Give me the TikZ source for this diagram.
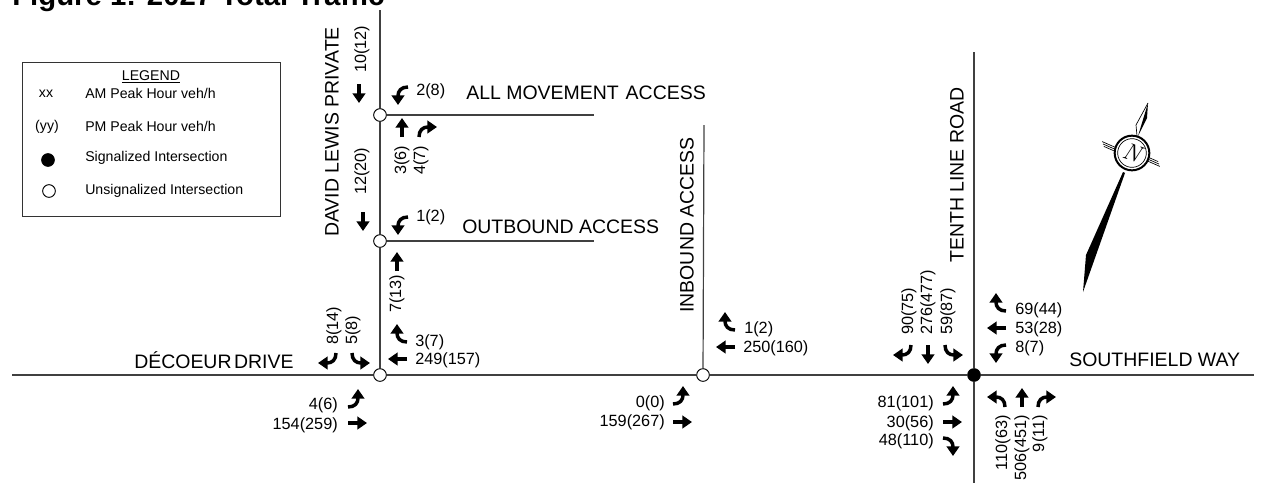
\documentclass[tikz,border=0pt]{standalone}
\usepackage{fontspec}
\setmainfont{Liberation Sans}
\usepackage{tikz}
\usetikzlibrary{arrows.meta,positioning}

\begin{document}
\begin{tikzpicture}[
  x=0.75pt,y=-0.75pt,
  font=\fontsize{12.2}{14}\selectfont,
  road/.style={draw=black!75,line width=0.9pt},
  ctrl/.style={circle,draw=black,fill=white,line width=0.7pt,minimum size=9.5pt,inner sep=0pt},
  sgnl/.style={ctrl,fill=black},
  mov/.style={line width=2.6pt,-{Triangle[length=7.2pt,width=9.4pt]}},
  vol/.style={inner sep=0pt,anchor=west},
  volr/.style={inner sep=0pt,anchor=east},
  vup/.style={inner sep=0pt,rotate=90,anchor=west},
  vdn/.style={inner sep=0pt,rotate=90,anchor=east},
  rname/.style={inner sep=0pt,font=\fontsize{14.6}{16}\selectfont},
  leg/.style={inner sep=0pt,font=\fontsize{10.6}{12}\selectfont},
  thru/.pic={\draw[mov] (0,0) -- (19,0);},
  turnl/.pic={\draw[mov] (0,0) .. controls (7,0) and (10,-4) .. (10,-18);},
  turnr/.pic={\draw[mov] (0,0) .. controls (7,0) and (10,4) .. (10,18);}
]
\path[use as bounding box,clip] (0,0) rectangle (1264,483);

% ---- title (cut by the page edge) ----
\node[inner sep=0pt,anchor=base west,font=\fontsize{22}{24}\selectfont\bfseries] (title) at (12,5) {Figure 1: 2027 Total Traffic};

% ---- intersections and road ends ----
\node[ctrl] (dlpn) at (380,115) {};
\node[ctrl] (dlps) at (380,241) {};
\node[ctrl] (dlpm) at (380,375) {};
\node[ctrl] (inbd) at (703,375) {};
\node[sgnl] (tnth) at (974,375) {};
\coordinate (dlptop) at (380,10);
\coordinate (amaend) at (594,115);
\coordinate (obaend) at (594,241);
\coordinate (inbtop) at (704,125);
\coordinate (tnthn) at (974,52);
\coordinate (tnths) at (974,483);
\coordinate (decw) at (12,375);
\coordinate (soue) at (1254,375);
\draw[road] (dlptop) -- (dlpn);
\draw[road] (dlpn) -- (dlps);
\draw[road] (dlps) -- (dlpm);
\draw[road] (dlpn) -- (amaend);
\draw[road] (dlps) -- (obaend);
\draw[road] (inbtop) -- (inbd);
\draw[road] (tnthn) -- (tnth);
\draw[road] (tnth) -- (tnths);
\draw[road] (decw) -- (dlpm);
\draw[road] (dlpm) -- (inbd);
\draw[road] (inbd) -- (tnth);
\draw[road] (tnth) -- (soue);

% ---- street names ----
\node[rname,rotate=90] (dlpname) at (332,132) {DAVID LEWIS PRIVATE};
\node[rname,rotate=90] (inbname) at (687,225) {INBOUND ACCESS};
\node[rname,rotate=90] (tnthname) at (957,175) {TENTH LINE ROAD};
\node[rname,anchor=west] (amaname) at (466,93) {ALL MOVEMENT\hspace{0.08em} ACCESS};
\node[rname,anchor=west] (obaname) at (462,227) {OUTBOUND ACCESS};
\node[rname,anchor=west] (decname) at (134,360) {DÉCOEUR\hspace{-0.15em} DRIVE};
\node[rname,anchor=west] (souname) at (1069,360) {SOUTHFIELD WAY};

% ---- legend ----
\node[draw=black!80,line width=0.7pt,minimum width=193.5pt,minimum height=115.5pt,inner sep=0pt] (legbox) at (151,139) {};
\node[leg] (legtitle) at (151,77) {\underline{LEGEND}};
\node[leg,anchor=west] (legam) at (85,93) {AM Peak Hour veh/h};
\node[leg,anchor=west] (legpm) at (85,126) {PM Peak Hour veh/h};
\node[leg,anchor=west] (legsg) at (85,158) {Signalized Intersection};
\node[leg,anchor=west] (legun) at (85,191) {Unsignalized Intersection};
\node[leg] (legxx) at (46,94) {xx};
\node[leg] (legyy) at (47,127) {(yy)};
\node[sgnl] (legdot) at (48,160) {};
\node[ctrl] (legcirc) at (49,191) {};

% ---- volumes ----
\foreach \n/\x/\y/\t in {a/416/91/2(8),b/416/217/1(2),c/415/342/3(7),d/415/360/249(157),e/744/329/1(2),f/743/348/250(160),g/1015/310/69(44),h/1015/329/53(28),i/1015/348/8(7)}
  \node[vol] (w\n) at (\x,\y) {\t};
\foreach \n/\x/\y/\t in {a/338/405/4(6),b/338/425/154(259),c/665/403/0(0),d/665/422/159(267),e/934/403/81(101),f/934/423/30(56),g/934/441/48(110)}
  \node[volr] (e\n) at (\x,\y) {\t};
\foreach \n/\x/\y/\t in {a/362/73/10(12),b/362/195/12(20),c/402/175/3(6),d/421/175/4(7),e/397/313/7(13),f/334/345/8(14),g/353/345/5(8),h/909/335/90(75),i/928/335/276(477),j/948/335/59(87)}
  \node[vup] (u\n) at (\x,\y) {\t};
\foreach \n/\x/\y/\t in {a/1003/415/110(63),b/1022/415/506(451),c/1040/415/9(11)}
  \node[vdn] (d\n) at (\x,\y) {\t};

% ---- movement arrows ----
\foreach \x/\y/\r in {359/84/270,363/212/270,402/137/90,397/271/90,407/359/180,348/423/0,735/347/180,673/422/0,928/345/270,1006/328/180,943/422/0,1022/407/90}
  \pic[rotate=\r] at (\x,\y) {thru};
\foreach \x/\y/\r in {408/87/180,408/217/180,352/353/270,348/407/0,673/404/0,945/345/270,1006/345/180,943/404/0,1005/407/90}
  \pic[rotate=\r] at (\x,\y) {turnl};
\foreach \x/\y/\r in {419/137/90,407/342/180,336/353/270,735/330/180,911/345/270,1006/311/180,943/438/0,1038/407/90}
  \pic[rotate=\r] at (\x,\y) {turnr};

% ---- north arrow ----
\fill (1148,103) -- (1147,118) -- (1138,136) -- cycle;
\draw[line width=0.5pt] (1148,103) -- (1136,125) -- (1137,136);
\fill (1123,172) -- (1086,255) -- (1083,292) -- (1125,173) -- cycle;
\foreach \o in {-2.4,0,2.4} {
  \draw[line width=0.5pt] ([shift={(-29,-9)}]1132,153) ++(0.35*\o,\o) -- ++(16,7);
  \draw[line width=0.5pt] ([shift={(11,4)}]1132,153) ++(0.35*\o,\o) -- ++(16,7);
}
\node[circle,draw=black,fill=white,line width=1.5pt,minimum size=26pt,inner sep=0pt] (nout) at (1132,153) {};
\node[circle,draw=black,line width=0.5pt,minimum size=21.5pt,inner sep=0pt,font=\fontsize{18}{18}\selectfont\itshape,rotate=-19] (nin) at (1132,153) {\fontspec{Latin Modern Roman}[Ligatures=TeX]N};
\end{tikzpicture}
\end{document}
